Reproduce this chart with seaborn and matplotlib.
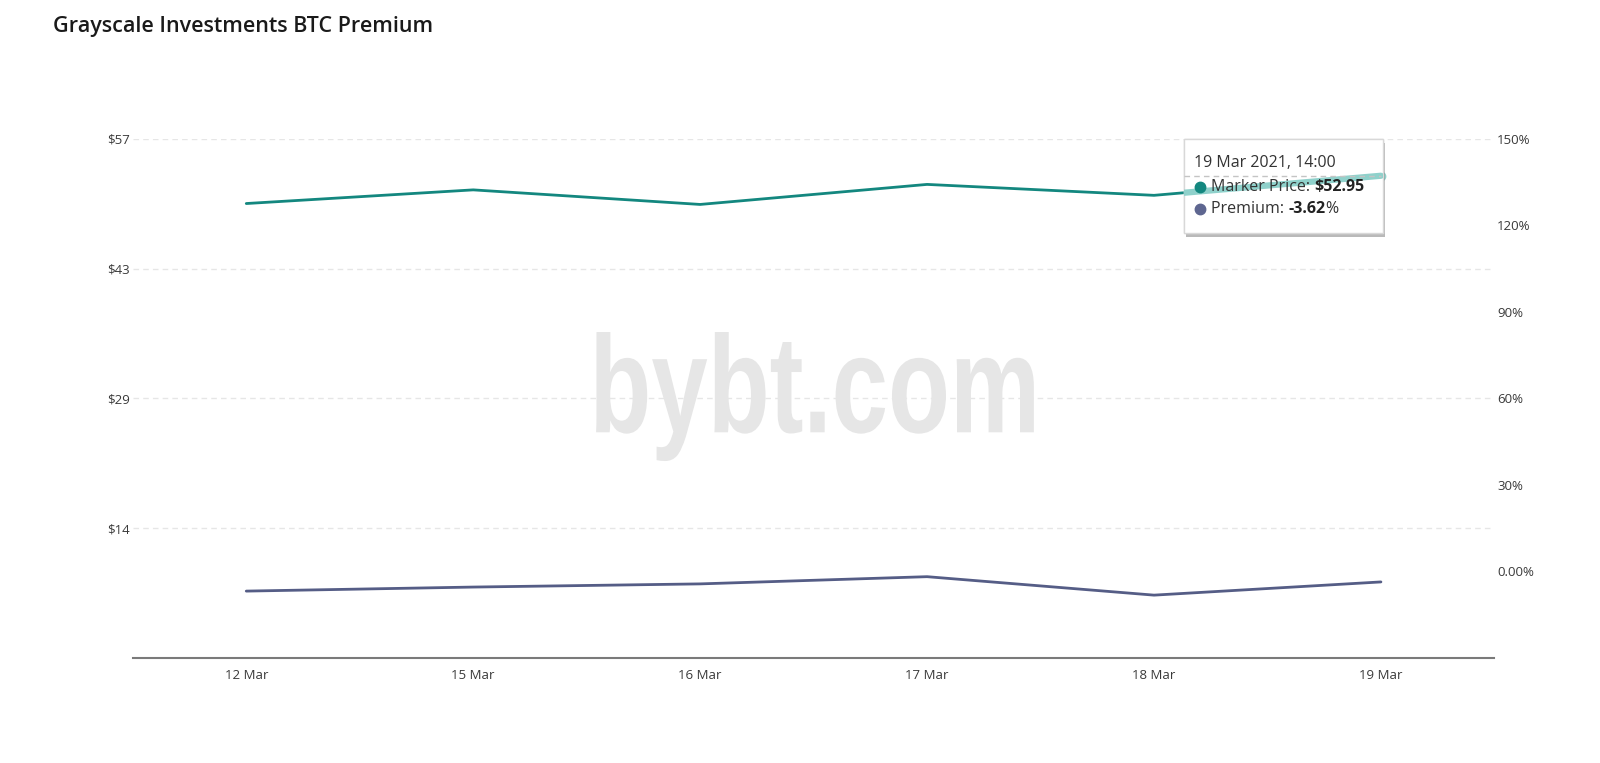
import numpy as np
import pandas as pd
import matplotlib
matplotlib.use("Agg")
import matplotlib.pyplot as plt
import matplotlib.patheffects as pe
from matplotlib.patches import Rectangle, PathPatch
from matplotlib.textpath import TextPath
from matplotlib.font_manager import FontProperties
from matplotlib.transforms import Affine2D
import seaborn as sns

dates = ["12 Mar", "15 Mar", "16 Mar", "17 Mar", "18 Mar", "19 Mar"]
price = [49.9, 51.4, 49.8, 52.0, 50.8, 52.95]
premium = [-6.8, -5.4, -4.3, -1.8, -8.2, -3.62]

price_ticks = [14.25, 28.5, 42.75, 57]
price_labels = ["$14", "$29", "$43", "$57"]
premium_ticks = [0, 30, 60, 90, 120, 150]
premium_labels = ["0.00%", "30%", "60%", "90%", "120%", "150%"]

tip_date = "19 Mar 2021, 14:00"
tip_price = "$52.95"
tip_premium = "-3.62"

teal = "#13877f"
slate = "#555d86"

df = pd.DataFrame({"pos": np.arange(len(dates)), "date": dates,
                   "price": price, "premium": premium})

sns.set_theme(style="white")
plt.rcParams["font.family"] = ["Open Sans", "DejaVu Sans"]

fig = plt.figure(figsize=(16, 7.63), dpi=100)
ax = fig.add_axes([0.083, 0.1376, 0.851, 0.6804])
ax2 = ax.twinx()

# watermark, squeezed into its box in axes fraction
wm = TextPath((0, 0), "bybt.com", size=100,
              prop=FontProperties(family="Liberation Sans", weight="bold"))
ext = wm.get_extents()
w, h = 0.3215, 0.2485
cx, cy = 0.501, 0.5037
wm_tr = (Affine2D().translate(-ext.x0, -ext.y0)
         .scale(w / ext.width, h / ext.height)
         .translate(cx - w / 2, cy - h / 2) + ax.transAxes)
ax.add_patch(PathPatch(wm, transform=wm_tr, facecolor="#e6e6e6",
                       edgecolor="none", zorder=0.1))

sns.lineplot(data=df, x="pos", y="price", ax=ax, color=teal, linewidth=2, zorder=3)
sns.lineplot(data=df, x="pos", y="premium", ax=ax2, color=slate, linewidth=2, zorder=3)

ax.set_xlim(-0.5, len(dates) - 0.5)
ax.set_ylim(0, 57)
ax2.set_ylim(-30, 150)
ax.set_xticks(df["pos"])
ax.set_xticklabels(dates)
ax.set_yticks(price_ticks)
ax.set_yticklabels(price_labels)
ax2.set_yticks(premium_ticks)
ax2.set_yticklabels(premium_labels)
ax.set_xlabel("")
ax.set_ylabel("")
ax2.set_ylabel("")

ax.grid(axis="y", color="#e6e6e6", linestyle=(0, (4, 3)), linewidth=1)
ax.set_axisbelow(True)
for a in (ax, ax2):
    for s in a.spines.values():
        s.set_visible(False)
ax.spines["bottom"].set_visible(True)
ax.spines["bottom"].set_color("#7a7a7a")
ax.spines["bottom"].set_linewidth(1.5)

ax.tick_params(axis="x", length=0, pad=8, labelsize=9.5, labelcolor="#3a3a3a")
ax.tick_params(axis="y", length=0, pad=2, labelsize=9.5, labelcolor="#3a3a3a")
ax2.tick_params(axis="y", length=0, pad=2, labelsize=9.5, labelcolor="#3a3a3a")

fig.text(53 / 1600, 1 - 26.5 / 763, "Grayscale Investments BTC Premium",
         fontsize=15.5, fontweight="semibold", color="#1a1a1a", va="center")

# tooltip (hover state on the last point)
last = len(dates) - 1
ax2.plot([last], [price[last]], transform=ax.transData, marker="o", markersize=6,
         markerfacecolor="#a6dcd7", markeredgecolor="#8fd1cb", zorder=8, clip_on=False)
box = Rectangle((4.13, 46.66), 0.877, 10.32, transform=ax.transData,
                facecolor="white", edgecolor="#d8d8d8", linewidth=1,
                zorder=10, clip_on=False)
box.set_path_effects([pe.withSimplePatchShadow(offset=(2, -3), shadow_rgbFace="k", alpha=0.3),
                      pe.Normal()])
ax2.add_patch(box)

hl, = ax2.plot(df["pos"][last - 1:], df["price"][last - 1:], transform=ax.transData,
               color="#8fd1cb", linewidth=4.5, zorder=10.5)
hl.set_clip_path(box)
ax2.plot([4.13, last], [price[last], price[last]], transform=ax.transData,
         color="#c4c4c4", linestyle=(0, (4, 3)), linewidth=1, zorder=11, clip_on=False)

ax2.text(4.176, 54.34, tip_date, transform=ax.transData, fontsize=11.5,
         color="#333333", va="center", zorder=12)
ax2.plot([4.204], [51.71], transform=ax.transData, marker="o", markersize=7.5,
         color=teal, zorder=12, clip_on=False)
ax2.plot([4.204], [49.29], transform=ax.transData, marker="o", markersize=7.5,
         color="#5e6690", zorder=12, clip_on=False)
t1 = ax2.text(4.252, 51.71, "Marker Price: ", transform=ax.transData, fontsize=11.5,
              color="#333333", va="center", zorder=12)
ax2.annotate(tip_price, xy=(1, 0.5), xycoords=t1, va="center", fontsize=11.5,
             fontweight="bold", color="#222222", zorder=12)
t2 = ax2.text(4.252, 49.29, "Premium: ", transform=ax.transData, fontsize=11.5,
              color="#333333", va="center", zorder=12)
t3 = ax2.annotate(tip_premium, xy=(1, 0.5), xycoords=t2, va="center", fontsize=11.5,
                  fontweight="bold", color="#222222", zorder=12)
ax2.annotate("%", xy=(1, 0.5), xycoords=t3, va="center", fontsize=11.5,
             color="#333333", zorder=12)

fig.savefig("out.png", dpi=100)
